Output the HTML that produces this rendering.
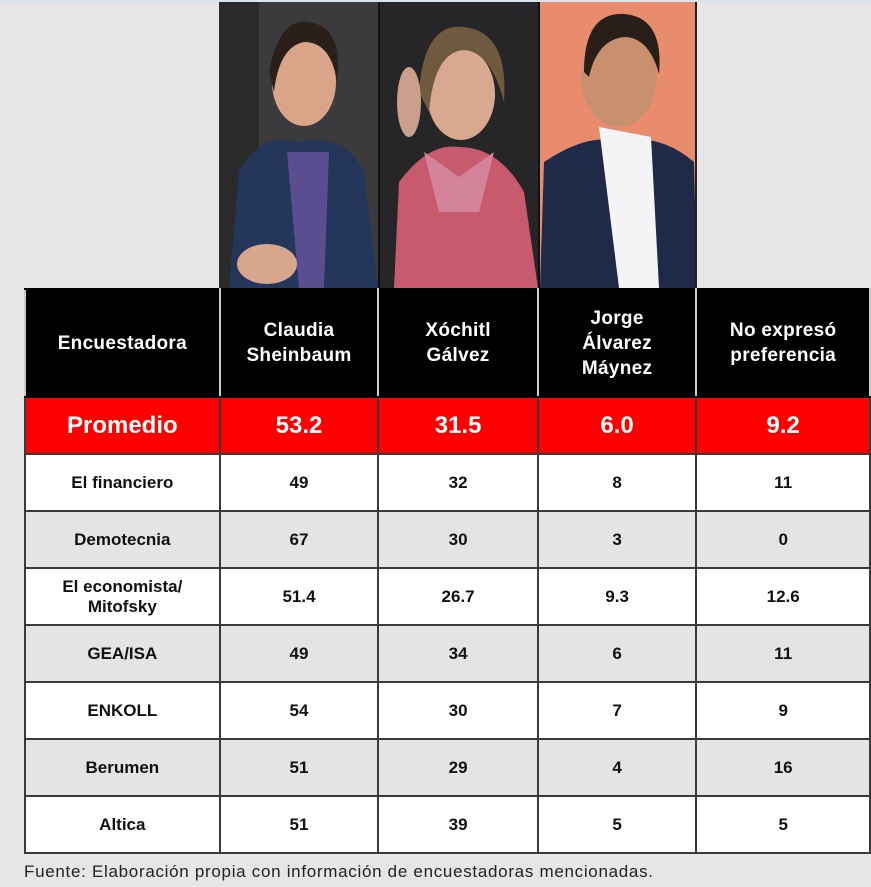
<!DOCTYPE html><html><head><style>
body{margin:0;width:871px;height:887px;background:#e6e6e6;font-family:"Liberation Sans",sans-serif;position:relative;overflow:hidden}
.a{position:absolute}
table{position:absolute;left:24px;top:288px;border-collapse:collapse;table-layout:fixed}
td{border:2px solid #3a3a3a;text-align:center;font-weight:bold;font-size:17px;color:#111;padding:0;line-height:20px}
tr.h td{background:#000;color:#fff;height:106px;font-size:19px;line-height:25px;border-color:#000;border-left-color:#ccc;border-right-color:#ccc;letter-spacing:0.3px}
tr.p td{background:#f00;color:#fff;height:55px;font-size:24px}
tr.w td{background:#fff;height:55px}
tr.g td{background:#e4e4e4;height:55px}
</style></head><body>
<div class="a" style="left:0;top:0;width:871px;height:3px;background:#dde3ea"></div>
<svg class="a" style="left:219px;top:2px" width="478" height="286">
<rect x="0" y="0" width="159" height="286" fill="#3b3b3d"/>
<rect x="0" y="0" width="40" height="286" fill="#2a2a2a"/>
<path d="M10 286 L20 170 Q40 130 80 140 Q125 130 145 170 L159 286Z" fill="#24365a"/>
<path d="M68 150 L80 286 L105 286 L110 150Z" fill="#5a4e90"/>
<ellipse cx="85" cy="80" rx="32" ry="44" fill="#d9a488"/>
<path d="M50 70 Q60 15 90 20 Q125 25 118 80 Q112 40 85 40 Q60 45 55 90Z" fill="#2b1f1a"/>
<ellipse cx="48" cy="262" rx="30" ry="20" fill="#d8a68c"/>
<rect x="159" y="0" width="2" height="286" fill="#111"/>
<rect x="161" y="0" width="158" height="286" fill="#262628"/>
<path d="M175 286 L180 180 Q210 140 240 145 Q280 145 305 190 L319 286Z" fill="#c85a6e"/>
<path d="M205 150 L240 175 L275 150 L260 210 L220 210Z" fill="#d4849a"/>
<ellipse cx="242" cy="92" rx="34" ry="46" fill="#d9a890"/>
<path d="M200 90 Q205 20 245 25 Q290 30 285 100 Q272 50 245 48 Q215 50 210 110Z" fill="#6f5a40"/>
<ellipse cx="190" cy="100" rx="12" ry="35" fill="#caa08c"/>
<rect x="319" y="0" width="2" height="286" fill="#111"/>
<rect x="321" y="0" width="157" height="286" fill="#e98c6e"/>
<path d="M321 286 L325 160 Q370 130 400 140 Q440 130 475 160 L478 286Z" fill="#1e2a48"/>
<path d="M380 125 L400 286 L440 286 L432 135Z" fill="#f4f4f6"/>
<ellipse cx="400" cy="75" rx="38" ry="50" fill="#c9906f"/>
<path d="M365 70 Q365 10 405 12 Q445 15 440 72 Q430 35 405 35 Q378 38 370 75Z" fill="#2a1e19"/>
<rect x="476" y="0" width="2" height="286" fill="#222"/>
</svg>
<table>
<colgroup><col style="width:195px"><col style="width:159px"><col style="width:160px"><col style="width:159px"><col style="width:174px"></colgroup>
<tr class="h"><td>Encuestadora</td><td>Claudia<br>Sheinbaum</td><td>Xóchitl<br>Gálvez</td><td>Jorge<br>Álvarez<br>Máynez</td><td>No expresó<br>preferencia</td></tr>
<tr class="p"><td>Promedio</td><td>53.2</td><td>31.5</td><td>6.0</td><td>9.2</td></tr>
<tr class="w"><td>El financiero</td><td>49</td><td>32</td><td>8</td><td>11</td></tr>
<tr class="g"><td>Demotecnia</td><td>67</td><td>30</td><td>3</td><td>0</td></tr>
<tr class="w"><td>El economista/<br>Mitofsky</td><td>51.4</td><td>26.7</td><td>9.3</td><td>12.6</td></tr>
<tr class="g"><td>GEA/ISA</td><td>49</td><td>34</td><td>6</td><td>11</td></tr>
<tr class="w"><td>ENKOLL</td><td>54</td><td>30</td><td>7</td><td>9</td></tr>
<tr class="g"><td>Berumen</td><td>51</td><td>29</td><td>4</td><td>16</td></tr>
<tr class="w"><td>Altica</td><td>51</td><td>39</td><td>5</td><td>5</td></tr>
</table>
<div class="a" style="left:24px;top:862px;font-size:17px;letter-spacing:0.7px;color:#222">Fuente: Elaboración propia con información de encuestadoras mencionadas.</div>
</body></html>
